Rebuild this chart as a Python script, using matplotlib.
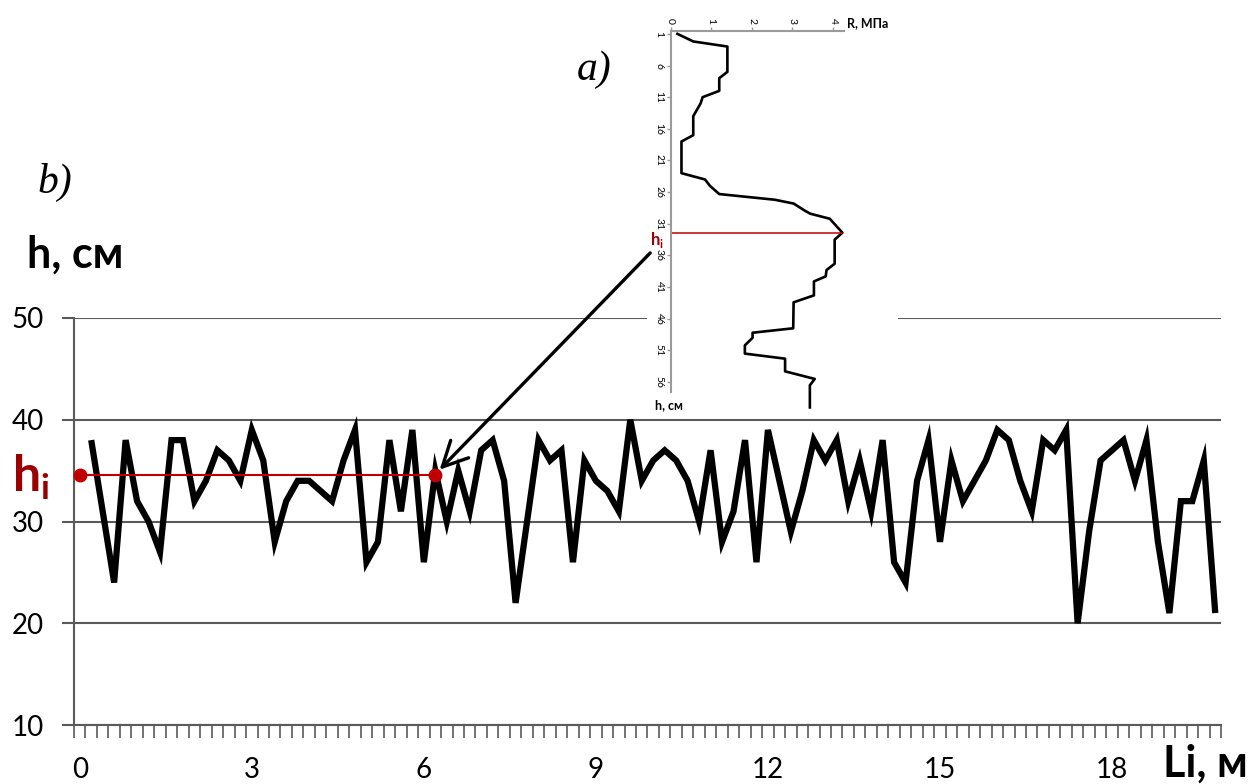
import numpy as np
import matplotlib
matplotlib.use("Agg")
import matplotlib.pyplot as plt
from matplotlib.patches import Rectangle

plt.rcParams['font.family'] = ['Lato', 'DejaVu Sans']
plt.rcParams['mathtext.fontset'] = 'custom'
plt.rcParams['mathtext.bf'] = 'Lato:bold'
plt.rcParams['mathtext.rm'] = 'Lato'

# ---- b) layer thickness along the transect (one reading every 0.2 m, from 0.2 m)
depth_cm = [38, 31, 24, 38, 32, 30, 27, 38, 38, 32,
            34, 37, 36, 34, 39, 36, 28, 32, 34, 34,
            33, 32, 36, 39, 26, 28, 38, 31, 39, 26,
            35, 30, 35, 31, 37, 38, 34, 22, 30, 38,
            36, 37, 26, 36, 34, 33, 31, 40, 34, 36,
            37, 36, 34, 30, 37, 28, 31, 38, 26, 39,
            34, 29, 33, 38, 36, 38, 32, 36, 31, 38,
            26, 24, 34, 38, 28, 36, 32, 34, 36, 39,
            38, 34, 31, 38, 37, 39, 20, 29, 36, 37,
            38, 34, 38, 28, 21, 32, 32, 36, 21]
step_m = 0.2
h_i = 34.6           # depth of the hard layer, cm
hi_point = 31        # reading index where it is marked

x_ticks = [0, 3, 6, 9, 12, 15, 18]
y_ticks = [10, 20, 30, 40, 50]

# ---- a) penetration resistance profile R (MPa) versus depth h (cm)
profile_h = [1, 2.2, 3, 7, 8, 10, 11, 12, 14, 17, 18, 23, 24, 25, 26.3, 27.2,
             27.8, 28.9, 29.4, 30.2, 32.4, 33.5, 37.3, 38.3, 39.3, 40.1, 42.3,
             43.4, 47.5, 48.2, 49, 50.2, 51.5, 52.3, 54.3, 55.5, 56.5, 60]
profile_R = [0.17, 0.56, 1.40, 1.40, 1.20, 1.20, 0.79, 0.74, 0.56, 0.56, 0.27,
             0.27, 0.85, 0.97, 1.20, 2.57, 3.03, 3.30, 3.44, 3.92, 4.23, 4.04,
             4.04, 3.84, 3.82, 3.53, 3.53, 3.03, 3.02, 2.02, 2.02, 1.83, 1.83,
             2.82, 2.82, 3.55, 3.43, 3.43]
profile_hi = 32.4
R_ticks = [0, 1, 2, 3, 4]
h_ticks = [1, 6, 11, 16, 21, 26, 31, 36, 41, 46, 51, 56]

W, H = 1257, 784
fig = plt.figure(figsize=(W / 100, H / 100), dpi=100)


def fx(px):
    return px / W


def fy(py):
    return 1 - py / H


GRID = '#5a5a5a'
RED = '#C00000'
DARKRED = '#9A0000'

# ---------------- main chart
ax = fig.add_axes([fx(74), fy(725), fx(1221) - fx(74), fy(318) - fy(725)])
Li = step_m * np.arange(1, len(depth_cm) + 1)
ax.plot(Li, depth_cm, color='black', lw=4.5, solid_joinstyle='miter',
        solid_capstyle='butt', zorder=3)

ax.set_xlim(-step_m / 2, Li[-1] + step_m / 2)
ax.set_ylim(y_ticks[0], y_ticks[-1])

for s in ('top', 'right'):
    ax.spines[s].set_visible(False)
for s in ('left', 'bottom'):
    ax.spines[s].set_color(GRID)
    ax.spines[s].set_linewidth(1.5)

ax.set_yticks(y_ticks)
ax.yaxis.grid(True, color=GRID, lw=1.5)
ax.set_axisbelow(True)
ax.tick_params(axis='y', direction='out', length=8.6, width=1.5, color=GRID,
               labelsize=20, pad=13)

ax.set_xticks(x_ticks)
ax.set_xticklabels([str(v) for v in x_ticks])
ax.set_xticks(np.arange(len(depth_cm) + 2) * step_m - step_m / 2, minor=True)
ax.tick_params(axis='x', which='major', length=0, labelsize=20, pad=23)
ax.tick_params(axis='x', which='minor', direction='out', length=9, width=1.2,
               color=GRID)

# hi level: from the axis to the point where the profile reaches it
k = hi_point - 1
x_cross = np.interp(h_i, [depth_cm[k - 1], depth_cm[k]], [Li[k - 1], Li[k]])
ax.plot([0, x_cross], [h_i, h_i], color=RED, lw=1.5, zorder=4)
ax.plot([0, x_cross], [h_i, h_i], 'o', ms=9, color=RED, zorder=5, clip_on=False)

fig.text(fx(12), fy(492), r'$\mathbf{h}_\mathbf{i}$', color=DARKRED,
         fontsize=36, ha='left', va='baseline')
fig.text(fx(27), fy(268), 'h, см', fontsize=31, fontweight='bold',
         ha='left', va='baseline')
fig.text(fx(1163), fy(777), 'Li, м', fontsize=31, fontweight='bold',
         ha='left', va='baseline')
fig.text(fx(37), fy(193), 'b)', fontsize=30, family='Liberation Serif',
         style='italic', ha='left', va='baseline')
fig.text(fx(577), fy(80), 'a)', fontsize=30, family='Liberation Serif',
         style='italic', ha='left', va='baseline')

# ---------------- inset a)
fig.patches.append(Rectangle((fx(647), fy(412)), fx(898) - fx(647),
                             fy(0) - fy(412), transform=fig.transFigure,
                             facecolor='white', edgecolor='none', zorder=1))

ax_in = fig.add_axes([fx(670.5), fy(391.6), fx(844) - fx(670.5),
                      fy(30.7) - fy(391.6)], zorder=2)
ax_in.patch.set_alpha(0)
ax_in.set_xlim(0, 4.27)
ax_in.set_ylim(57.5, 0.5)
for s in ('bottom', 'right'):
    ax_in.spines[s].set_visible(False)
for s in ('left', 'top'):
    ax_in.spines[s].set_color('#9a9a9a')
    ax_in.spines[s].set_linewidth(1.5)
ax_in.xaxis.tick_top()
ax_in.set_xticks(R_ticks)
ax_in.set_xticklabels([str(v) for v in R_ticks], rotation=-90)
ax_in.set_yticks(h_ticks)
ax_in.set_yticklabels([str(v) for v in h_ticks], rotation=-90, va='center')
ax_in.tick_params(direction='out', length=3, width=1, color='#9a9a9a',
                  labelsize=7.5, pad=2)

ax_in.plot(profile_R, profile_h, color='black', lw=1.9, clip_on=False)
R_peak = np.interp(profile_hi, profile_h, profile_R)
ax_in.plot([0, R_peak], [profile_hi, profile_hi], color=RED, lw=1.1)
ax_in.text(-0.5, profile_hi + 1.9, r'$\mathbf{h}_\mathbf{i}$', color=DARKRED,
           fontsize=12, ha='left', va='baseline', zorder=5)
ax_in.text(1.02, 1.02, 'R, МПа', transform=ax_in.transAxes, fontsize=9,
           fontweight='bold', ha='left', va='center')
ax_in.text(-0.09, -0.037, 'h, см', transform=ax_in.transAxes, fontsize=9,
           fontweight='bold', ha='left', va='center')

ax_in.annotate('', xy=(x_cross, h_i), xycoords=ax.transData,
               xytext=(-0.5, 35.6), textcoords='data',
               arrowprops=dict(arrowstyle='->,head_length=0.9,head_width=0.45',
                               lw=2.4, color='black', shrinkA=0, shrinkB=5,
                               mutation_scale=20),
               annotation_clip=False)

fig.savefig('out.png', dpi=100)
